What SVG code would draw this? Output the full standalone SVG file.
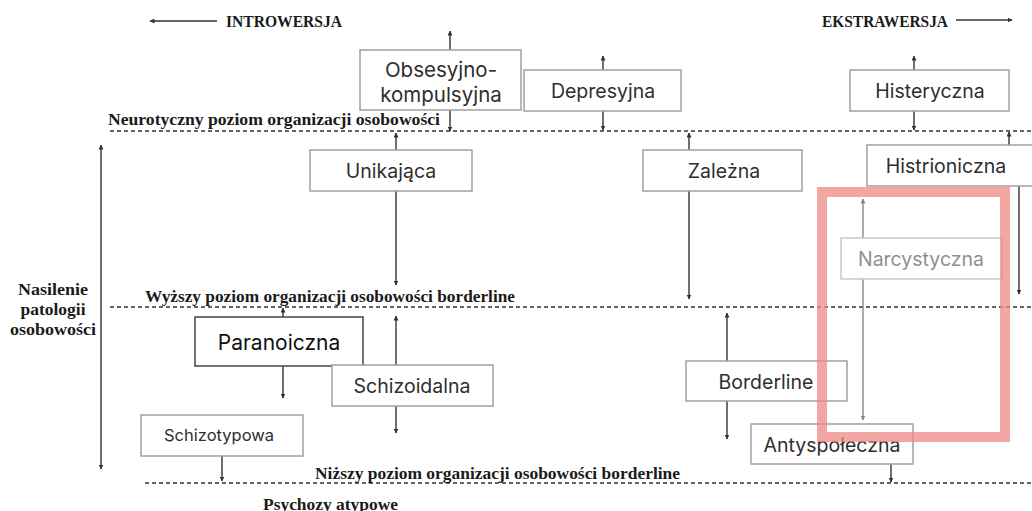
<svg xmlns="http://www.w3.org/2000/svg" width="1032" height="511" viewBox="0 0 1032 511">
<defs>
<marker id="ah" viewBox="0 0 10 10" refX="9" refY="5" markerWidth="5" markerHeight="5" orient="auto-start-reverse" markerUnits="userSpaceOnUse"><path d="M0,0 L10,5 L0,10 z" fill="#333"/></marker>
<marker id="ahg" viewBox="0 0 10 10" refX="9" refY="5" markerWidth="5" markerHeight="5" orient="auto-start-reverse" markerUnits="userSpaceOnUse"><path d="M0,0 L10,5 L0,10 z" fill="#888"/></marker>
<style>
.box{fill:#fff;stroke:#a0a0a0;stroke-width:1.5}
.boxd{fill:#fff;stroke:#444;stroke-width:1.5}
.t{font-family:Inter,"Liberation Sans",sans-serif;font-size:19.5px;fill:#2e2e2e;text-anchor:middle}
.lbl{font-family:"Liberation Serif",serif;font-weight:bold;font-size:16px;fill:#1a1a1a}
.dash{stroke:#333;stroke-width:1.5;stroke-dasharray:4 3;fill:none}
.c{stroke:#333;stroke-width:1.4;fill:none;marker-end:url(#ah)}
.cg{stroke:#888;stroke-width:1.4;fill:none;marker-end:url(#ahg)}
</style>
</defs>
<rect width="1032" height="511" fill="#fff"/>

<g id="levels">
<line class="dash" x1="110" y1="131" x2="1032" y2="131"/>
<line class="dash" x1="110" y1="307" x2="1032" y2="307"/>
<line class="dash" x1="145" y1="483" x2="1032" y2="483"/>
<text class="lbl" x="108" y="125" textLength="332" lengthAdjust="spacingAndGlyphs">Neurotyczny poziom organizacji osobowości</text>
<text class="lbl" x="145" y="302" textLength="370" lengthAdjust="spacingAndGlyphs">Wyższy poziom organizacji osobowości borderline</text>
<text class="lbl" x="315" y="479" textLength="365" lengthAdjust="spacingAndGlyphs">Niższy poziom organizacji osobowości borderline</text>
<text class="lbl" x="263" y="510" textLength="135" lengthAdjust="spacingAndGlyphs">Psychozy atypowe</text>
<text class="lbl" x="226" y="27" textLength="116" lengthAdjust="spacingAndGlyphs">INTROWERSJA</text>
<text class="lbl" x="822" y="27" textLength="126" lengthAdjust="spacingAndGlyphs">EKSTRAWERSJA</text>
<text class="lbl" text-anchor="middle" x="53" y="295" textLength="70" lengthAdjust="spacingAndGlyphs">Nasilenie</text>
<text class="lbl" text-anchor="middle" x="53" y="315" textLength="65" lengthAdjust="spacingAndGlyphs">patologii</text>
<text class="lbl" text-anchor="middle" x="53" y="335" textLength="86" lengthAdjust="spacingAndGlyphs">osobowości</text>
</g>

<g id="connectors">
<line class="c" x1="217" y1="21" x2="150" y2="21"/>
<line class="c" x1="956" y1="20" x2="1012" y2="20"/>
<line class="c" x1="101" y1="300" x2="101" y2="145"/>
<line class="c" x1="101" y1="300" x2="101" y2="469"/>
<line class="c" x1="450" y1="50" x2="450" y2="31"/>
<line class="c" x1="450" y1="110" x2="450" y2="131"/>
<line class="c" x1="603" y1="70" x2="603" y2="56"/>
<line class="c" x1="603" y1="111" x2="603" y2="130"/>
<line class="c" x1="914" y1="70" x2="914" y2="56"/>
<line class="c" x1="914" y1="111" x2="914" y2="130"/>
<line class="c" x1="396" y1="150" x2="396" y2="133"/>
<line class="c" x1="396" y1="191" x2="396" y2="285"/>
<line class="c" x1="689" y1="150" x2="689" y2="133"/>
<line class="c" x1="689" y1="191" x2="689" y2="299"/>
<line class="c" x1="1009" y1="145" x2="1009" y2="132"/>
<line class="c" x1="1019" y1="186" x2="1019" y2="294"/>
<line class="cg" x1="863" y1="238" x2="863" y2="199"/>
<line class="cg" x1="863" y1="279" x2="863" y2="420"/>
<line class="c" x1="283" y1="317" x2="283" y2="308"/>
<line class="c" x1="283" y1="366" x2="283" y2="398"/>
<line class="c" x1="396" y1="365" x2="396" y2="316"/>
<line class="c" x1="396" y1="406" x2="396" y2="433"/>
<line class="c" x1="222" y1="456" x2="222" y2="481"/>
<line class="c" x1="727" y1="361" x2="727" y2="313"/>
<line class="c" x1="727" y1="401" x2="727" y2="439"/>
<line class="c" x1="891" y1="464" x2="891" y2="482"/>
</g>

<g id="obsesyjno">
<rect class="box" x="360" y="50" width="161" height="60"/>
<text class="t" x="441" y="77" style="font-size:20.5px">Obsesyjno-</text>
<text class="t" x="441" y="102" style="font-size:20.5px">kompulsyjna</text>
</g>
<g id="depresyjna">
<rect class="box" x="524" y="70" width="157" height="41"/>
<text class="t" x="603" y="98">Depresyjna</text>
</g>
<g id="histeryczna">
<rect class="box" x="850" y="70" width="159" height="41"/>
<text class="t" x="930" y="98">Histeryczna</text>
</g>
<g id="unikajaca">
<rect class="box" x="310" y="150" width="162" height="41"/>
<text class="t" x="391" y="178">Unikająca</text>
</g>
<g id="zalezna">
<rect class="box" x="643" y="150" width="159" height="41"/>
<text class="t" x="724" y="178">Zależna</text>
</g>
<g id="histrioniczna">
<rect class="box" x="867" y="145" width="170" height="41"/>
<text class="t" x="946" y="173">Histrioniczna</text>
</g>
<g id="narcystyczna">
<rect class="box" x="841" y="238" width="161" height="41" style="stroke:#c8c8c8"/>
<text class="t" x="921" y="266" style="fill:#909090">Narcystyczna</text>
</g>
<g id="paranoiczna">
<rect class="boxd" x="195" y="317" width="168" height="49"/>
<text class="t" x="279" y="350" style="font-size:21px;fill:#111">Paranoiczna</text>
</g>
<g id="schizoidalna">
<rect class="box" x="332" y="365" width="161" height="41"/>
<text class="t" x="412" y="393">Schizoidalna</text>
</g>
<g id="schizotypowa">
<rect class="box" x="141" y="415" width="162" height="41"/>
<text class="t" x="219" y="441" style="font-size:16.5px">Schizotypowa</text>
</g>
<g id="borderline">
<rect class="box" x="686" y="361" width="161" height="40"/>
<text class="t" x="766" y="389">Borderline</text>
</g>
<g id="antyspoleczna">
<rect class="box" x="751" y="424" width="162" height="40"/>
<text class="t" x="832" y="452">Antyspołeczna</text>
</g>

<g id="highlight">
<rect x="822" y="192" width="183" height="245" fill="none" stroke="#ef8a85" stroke-opacity="0.75" stroke-width="10"/>
</g>
</svg>
